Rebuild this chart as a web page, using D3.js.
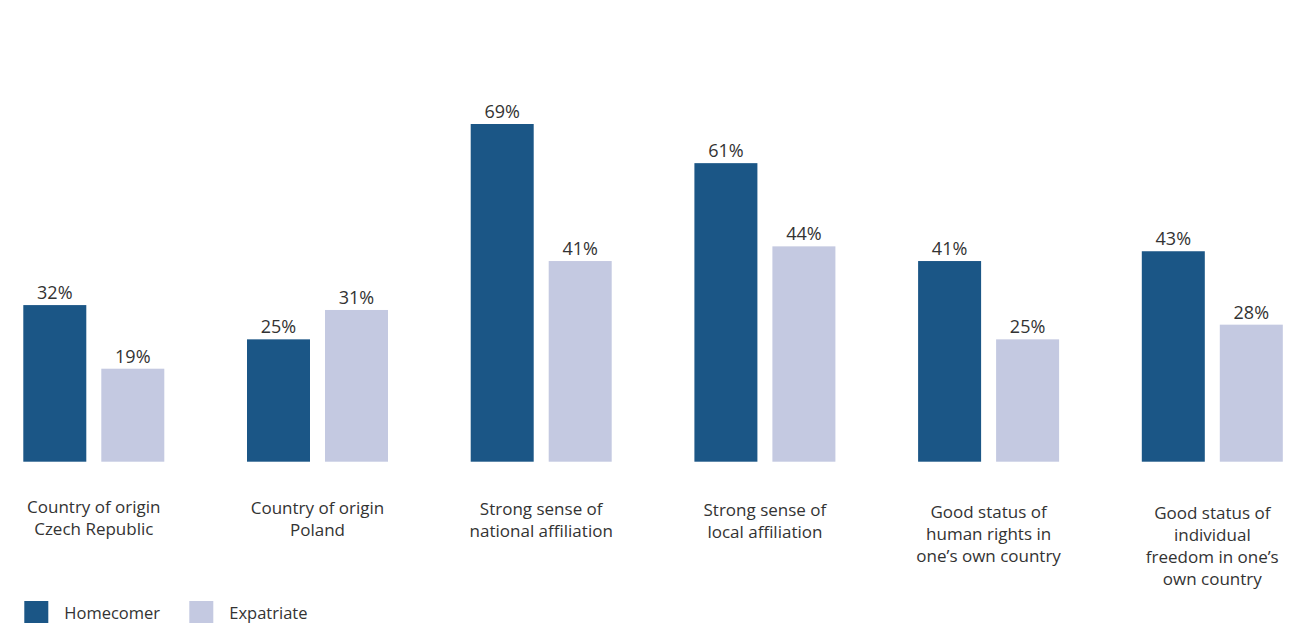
<!DOCTYPE html>
<html>
<head>
<meta charset="utf-8">
<script src="https://cdn.jsdelivr.net/npm/d3@7"></script>
<style>
html,body{margin:0;padding:0;background:#fff;}
svg{display:block;}
text{font-family:"Open Sans",sans-serif;fill:#333;}
</style>
</head>
<body>
<svg id="chart" width="1313" height="623"></svg>
<script>
const categories = [
  "Country of origin Czech Republic",
  "Country of origin Poland",
  "Strong sense of national affiliation",
  "Strong sense of local affiliation",
  "Good status of human rights in one’s own country",
  "Good status of individual freedom in one’s own country"
];
const categoryLines = [
  ["Country of origin", "Czech Republic"],
  ["Country of origin", "Poland"],
  ["Strong sense of", "national affiliation"],
  ["Strong sense of", "local affiliation"],
  ["Good status of", "human rights in", "one’s own country"],
  ["Good status of", "individual", "freedom in one’s", "own country"]
];
const seriesNames = ["Homecomer", "Expatriate"];
const homecomer = [32, 25, 69, 61, 41, 43];
const expatriate = [19, 31, 41, 44, 25, 28];
const colors = ["#1b5686", "#c4c9e1"];

const svg = d3.select("#chart");

const x0 = d3.scaleBand().domain(categories).range([23.3, 1282.8]).paddingInner(0.3697).paddingOuter(0);
const x1 = d3.scaleBand().domain(seriesNames).range([0, x0.bandwidth()]).paddingInner(0.1923);
const y = d3.scaleLinear().domain([0, 69]).range([461.7, 124]);

const rows = categories.map((c, i) => ({
  cat: c, i,
  vals: [
    {s: seriesNames[0], v: homecomer[i]},
    {s: seriesNames[1], v: expatriate[i]}
  ]
}));

const g = svg.selectAll("g.grp").data(rows).join("g")
  .attr("class", "grp")
  .attr("transform", d => `translate(${x0(d.cat)},0)`);

g.selectAll("rect").data(d => d.vals).join("rect")
  .attr("x", d => x1(d.s))
  .attr("width", x1.bandwidth())
  .attr("y", d => y(d.v))
  .attr("height", d => y(0) - y(d.v))
  .attr("fill", (d, j) => colors[j]);

g.selectAll("text.val").data(d => d.vals).join("text")
  .attr("class", "val")
  .attr("x", d => x1(d.s) + x1.bandwidth() / 2)
  .attr("y", d => y(d.v) - 6)
  .attr("text-anchor", "middle")
  .style("font-size", "18px")
  .text(d => d.v + "%");

g.each(function(d) {
  const t = d3.select(this).append("text")
    .attr("class", "cat")
    .attr("text-anchor", "middle")
    .style("font-size", "17px");
  categoryLines[d.i].forEach((ln, k) => {
    t.append("tspan")
      .attr("x", x0.bandwidth() / 2)
      .attr("y", 512.5 + d.i * 1.3 + k * 22)
      .text(ln);
  });
});

// legend
const legend = svg.append("g");
const legX = [24.3, 189.3];
seriesNames.forEach((s, j) => {
  legend.append("rect")
    .attr("x", legX[j]).attr("y", 601)
    .attr("width", 24).attr("height", 24)
    .attr("fill", colors[j]);
  legend.append("text")
    .attr("x", legX[j] + 40).attr("y", 618.5)
    .style("font-size", "16.5px")
    .text(s);
});
</script>
</body>
</html>
